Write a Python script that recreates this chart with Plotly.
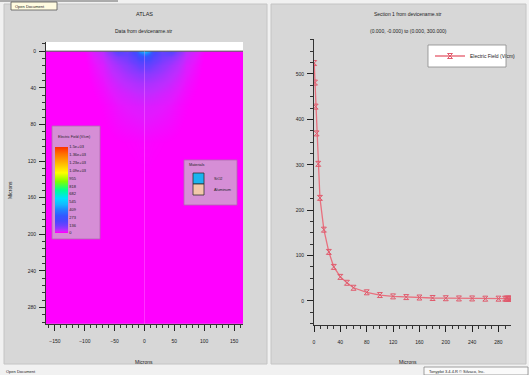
import plotly.graph_objects as go

W, H = 529, 375
def px(x): return x / W
def py(y): return 1 - y / H

# ---------------- data ----------------
# 2D electric field map (V/cm)
map_x = [-165, -100, -70, -55, -45, -30, -15, -8, 0, 8, 15, 30, 45, 55, 70, 100, 165]
map_y = [0, 3, 6, 10, 15, 25, 35, 45, 60, 100, 200, 295]
map_z = [
    [5, 15, 50, 120, 190, 150, 250, 450, 530, 450, 250, 150, 190, 120, 50, 15, 5],
    [4, 12, 45, 100, 150, 150, 220, 330, 400, 330, 220, 150, 150, 100, 45, 12, 4],
    [4, 10, 40, 80, 110, 130, 190, 250, 280, 250, 190, 130, 110, 80, 40, 10, 4],
    [3, 10, 35, 65, 85, 115, 160, 190, 200, 190, 160, 115, 85, 65, 35, 10, 3],
    [3, 9, 30, 55, 70, 95, 130, 150, 157, 150, 130, 95, 70, 55, 30, 9, 3],
    [3, 8, 25, 42, 52, 70, 85, 92, 95, 92, 85, 70, 52, 42, 25, 8, 3],
    [3, 7, 20, 32, 40, 50, 60, 63, 65, 63, 60, 50, 40, 32, 20, 7, 3],
    [3, 6, 16, 24, 30, 36, 42, 44, 45, 44, 42, 36, 30, 24, 16, 6, 3],
    [3, 5, 12, 17, 21, 25, 28, 29, 30, 29, 28, 25, 21, 17, 12, 5, 3],
    [3, 4, 7, 9, 10, 11, 12, 13, 13, 13, 12, 11, 10, 9, 7, 4, 3],
    [3, 3, 4, 5, 5, 6, 6, 6, 6, 6, 6, 6, 5, 5, 4, 3, 3],
    [3, 3, 4, 4, 5, 5, 5, 5, 5, 5, 5, 5, 5, 4, 4, 3, 3],
]
cb_vals = [0, 136, 273, 409, 545, 682, 818, 955, 1091, 1227, 1364, 1500]
cb_text = ["0", "136", "273", "409", "545", "682", "818", "955",
           "1.09e+03", "1.23e+03", "1.36e+03", "1.5e+03"]

# cutline section: Electric Field (V/cm) vs distance (microns)
sec_x = [0.3, 1.5, 2.5, 4, 6.5, 9, 15, 22.5, 30, 40, 50, 60, 80, 100, 120, 140,
         160, 180, 200, 220, 240, 260, 280, 290, 292, 294, 296, 298, 299.5]
sec_y = [524, 481, 428, 369, 302, 227, 157, 108, 75, 53, 40, 29, 19, 13, 10, 8.5,
         7.5, 6.5, 6, 5.5, 5.5, 5, 5, 5, 5, 5, 5, 5, 5]

left_xticks = [-150, -100, -50, 0, 50, 100, 150]
left_yticks = [0, 40, 80, 120, 160, 200, 240, 280]
right_xticks = [0, 40, 80, 120, 160, 200, 240, 280]
right_yticks = [0, 100, 200, 300, 400, 500]

colorscale = [
    [0.0, "#ff00ff"], [0.007, "#ff00ff"], [0.016, "#e418ff"], [0.03, "#c02cff"],
    [0.055, "#9438ff"], [0.09, "#6c40ff"], [0.14, "#4848ff"], [0.2, "#3458ff"],
    [0.27, "#2084ff"], [0.33, "#14b8ff"], [0.4, "#00e0ff"], [0.5, "#00ff90"],
    [0.6, "#80ff00"], [0.7, "#ffff00"], [0.82, "#ffb000"], [0.92, "#ff7000"],
    [1.0, "#ff3000"],
]

FONT = "Liberation Sans, Arial, sans-serif"
TXT = "#222222"

fig = go.Figure()

fig.add_trace(go.Heatmap(
    x=map_x, y=map_y, z=map_z, zmin=0, zmax=1500, colorscale=colorscale,
    zsmooth="best", xaxis="x", yaxis="y", showscale=True, hoverinfo="skip",
    colorbar=dict(
        x=px(55), xanchor="left", y=py(190), yanchor="middle",
        len=86, lenmode="pixels", thickness=13, thicknessmode="pixels",
        outlinewidth=0, xpad=0, ypad=0, ticks="", tickvals=cb_vals, ticktext=cb_text,
        tickfont=dict(size=4, color=TXT, family=FONT),
    ),
))

fig.add_trace(go.Scatter(
    x=sec_x, y=sec_y, mode="lines+markers", name="Electric Field (V/cm)",
    xaxis="x2", yaxis="y2",
    line=dict(color="#e8707e", width=1.3),
    marker=dict(symbol="hourglass-open", size=5, color="#e05a6c", line=dict(width=1)),
))

def axis_common():
    return dict(showgrid=False, zeroline=False, showline=True, linecolor="#333",
                linewidth=1, ticks="outside", ticklen=6, tickcolor="#222",
                tickfont=dict(size=5, color=TXT, family=FONT))

fig.update_layout(
    width=W, height=H, margin=dict(l=0, r=0, t=0, b=0),
    paper_bgcolor="#f1f1f1", plot_bgcolor="white",
    font=dict(family=FONT, color=TXT),
    showlegend=True,
    legend=dict(x=px(430), y=py(56), xanchor="left", yanchor="middle",
                bgcolor="rgba(0,0,0,0)", borderwidth=0, itemwidth=30,
                font=dict(size=5, color=TXT, family=FONT)),
    xaxis=dict(domain=[px(46), px(243)], range=[-165, 165], tickvals=left_xticks,
               anchor="y", ticklabelstandoff=6,
               minor=dict(dtick=10, ticklen=3, ticks="outside", tickcolor="#333"),
               **axis_common()),
    yaxis=dict(domain=[py(324), py(42)], range=[298, -10], tickvals=left_yticks,
               anchor="x", ticklabelstandoff=2,
               minor=dict(dtick=8, ticklen=3, ticks="outside", tickcolor="#333"),
               **axis_common()),
    xaxis2=dict(domain=[px(314), px(511)], range=[0, 299], tickvals=right_xticks,
                anchor="y2", ticklabelstandoff=6,
                minor=dict(dtick=10, ticklen=3, ticks="outside", tickcolor="#333"),
                **axis_common()),
    yaxis2=dict(domain=[py(325), py(39)], range=[-53, 577], tickvals=right_yticks,
                anchor="x2", ticklabelstandoff=2,
                minor=dict(dtick=25, ticklen=3, ticks="outside", tickcolor="#333"),
                **axis_common()),
)

shapes = []
def prect(x0, y0, x1, y1, fill, line="rgba(0,0,0,0)", lw=0, layer="below"):
    shapes.append(dict(type="rect", xref="paper", yref="paper", x0=px(x0), x1=px(x1),
                       y0=py(y1), y1=py(y0), fillcolor=fill,
                       line=dict(color=line, width=lw), layer=layer))

# window panels
prect(4, 4, 267, 364, "#d7d7d7", "#c4c4c4", 1)
prect(271, 4, 526, 364, "#d7d7d7", "#c4c4c4", 1)
# top tooltip & line
shapes.append(dict(type="line", xref="paper", yref="paper", x0=0, x1=px(118),
                   y0=py(1), y1=py(1), line=dict(color="#666", width=1), layer="above"))
prect(11, 2, 57, 10, "#fffbe0", "#555", 0.8, layer="above")
# copyright box
prect(424, 367, 528, 375, "#fafafa", "#888", 0.8, layer="above")

# left plot: white air region above y=0 and surface line
shapes.append(dict(type="rect", xref="x", yref="y", x0=-165, x1=165, y0=-10, y1=0,
                   fillcolor="white", line=dict(width=0), layer="above"))
shapes.append(dict(type="line", xref="x", yref="y", x0=-165, x1=165, y0=0, y1=0,
                   line=dict(color="#505050", width=1), layer="above"))
shapes.append(dict(type="line", xref="x", yref="y", x0=0, x1=0, y0=0, y1=298,
                   line=dict(color="rgba(255,140,255,0.35)", width=1), layer="above"))
# field legend box
prect(52, 126, 100, 239, "#d68ed6", "#b06ab0", 0.8, layer="above")
# materials legend box
prect(184, 160, 237, 205, "#d68ed6", "#b06ab0", 0.8, layer="above")
prect(193, 173, 204, 184, "#1ab4f0", "#303030", 0.8, layer="above")
prect(193, 184, 204, 195, "#f2c8aa", "#303030", 0.8, layer="above")
# right legend box
prect(428, 45, 506, 67, "white", "#888", 0.8, layer="above")

fig.update_layout(shapes=shapes)

ann = []
def text(x, y, s, size=5, anchor="center", angle=0, color=TXT):
    ann.append(dict(xref="paper", yref="paper", x=px(x), y=py(y), text=s, showarrow=False,
                    xanchor=anchor, yanchor="middle", textangle=angle,
                    font=dict(size=size, color=color, family=FONT)))

text(144, 14, "ATLAS", 5.5)
text(144, 31, "Data from devicename.str", 5)
text(408, 14, "Section 1 from devicename.str", 5)
text(408, 31, "(0.000, -0.000) to (0.000, 300.000)", 5)
text(144, 362, "Microns", 5)
text(408, 362, "Microns", 5)
text(10, 190, "Microns", 5, angle=-90)
text(56, 137, "Electric Field (V/cm)", 3.6, anchor="left")
text(187, 165, "Materials", 3.8, anchor="left")
text(212, 179, "SiO2", 3.8, anchor="left")
text(212, 190, "Aluminum", 3.8, anchor="left")
text(13, 6, "Open Document", 4, anchor="left")
text(4, 371, "Open Document", 4, anchor="left")
text(427, 371, "Tonyplot 3.4.4.R \u00a9 Silvaco, Inc.", 4, anchor="left")

fig.update_layout(annotations=ann)
fig.write_html("out.html")
